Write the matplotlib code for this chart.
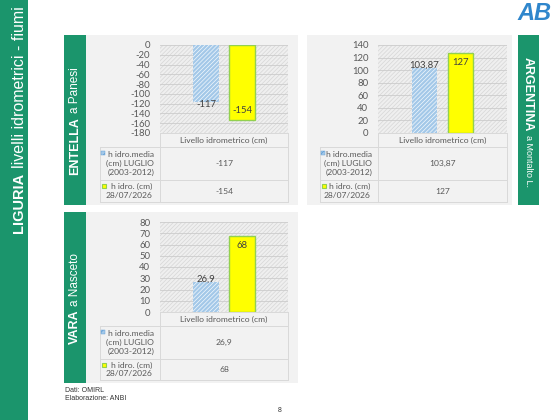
import numpy as np
import matplotlib.pyplot as plt
from matplotlib.patches import Rectangle

# data
series_names = ["h idro.media\n(cm) LUGLIO\n(2003-2012)", "h idro. (cm)\n28/07/2026"]
category = "Livello idrometrico (cm)"

entella_vals = [-117, -154]
entella_labels = ["-117", "-154"]
entella_ticks = list(range(-180, 1, 20))

argentina_vals = [103.87, 127]
argentina_labels = ["103,87", "127"]
argentina_ticks = list(range(0, 141, 20))

vara_vals = [26.9, 68]
vara_labels = ["26,9", "68"]
vara_ticks = list(range(0, 81, 10))

GREEN = "#1b956c"
BLUE = "#a3c8e8"
YELLOW = "#ffff00"
YEDGE = "#92d050"
GRID = "#d9d9d9"
TXT = "#595959"
W, H = 560, 420

plt.rcParams['font.family'] = ['Lato', 'DejaVu Sans']
plt.rcParams['hatch.linewidth'] = 0.5

fig = plt.figure(figsize=(5.6, 4.2), dpi=100)
bg = fig.add_axes([0, 0, 1, 1])
bg.set_xlim(0, W)
bg.set_ylim(H, 0)
bg.axis("off")
renderer = fig.canvas.get_renderer()


def px_axes(x0, y0, x1, y1):
    return fig.add_axes([x0 / W, 1 - y1 / H, (x1 - x0) / W, (y1 - y0) / H])


def two_part(x, y, bold, rest, size1, size2, rot, gap=4):
    # bold word followed by a normal-weight part, running along the rotation
    kw = dict(rotation=rot, rotation_mode="anchor", ha="left", va="center", color="white",
              family="Liberation Sans", zorder=3)
    t = bg.text(x, y, bold, fontsize=size1, fontweight="bold", **kw)
    ext = t.get_window_extent(renderer)
    length = ext.height  # pixels along the rotated direction
    y2 = y - length - gap if rot == 90 else y + length + gap
    bg.text(x, y2, rest, fontsize=size2, **kw)


def draw_panel(box, plot, tab_x0, vals, labels, ticks):
    bx0, by0, bx1, by1 = box
    px0, py0, px1, py1 = plot
    bg.add_patch(Rectangle((bx0, by0), bx1 - bx0, by1 - by0, facecolor="#f2f2f2",
                           edgecolor="none", zorder=1))

    ax = px_axes(px0, py0, px1, py1)
    ax.set_facecolor("#eeeeee")
    ax.add_patch(Rectangle((0, 0), 1, 1, transform=ax.transAxes, facecolor="#efefef",
                           edgecolor="#d6d6d6", hatch="////////", lw=0, zorder=0))
    ax.set_xlim(-0.5, 0.5)
    ax.set_ylim(min(ticks), max(ticks))
    ax.set_yticks(ticks)
    ax.set_yticklabels([str(t) for t in ticks], fontsize=6.8, color=TXT)
    ax.set_xticks([])
    ax.tick_params(axis="y", length=0, pad=7)
    for s in ax.spines.values():
        s.set_visible(False)
    ax.yaxis.grid(True, color="#cccccc", lw=0.6, zorder=1)
    ax.set_axisbelow(True)

    ax.bar(-0.14, vals[0], width=0.2, color=BLUE, edgecolor="#f4f9fd", hatch="////////",
           lw=0, zorder=2)
    ax.bar(0.14, vals[1], width=0.2, color=YELLOW, edgecolor=YEDGE, lw=1, zorder=2)
    sgn = 1 if vals[0] >= 0 else -1
    ax.annotate(labels[0], (-0.14, vals[0]), xytext=(0, 2 * sgn), textcoords="offset points",
                ha="center", va="center", fontsize=6.8, color="#404040")
    ax.annotate(labels[1], (0.14, vals[1]), xytext=(0, -7 * sgn), textcoords="offset points",
                ha="center", va="center", fontsize=6.8, color="#404040")

    # data table under the chart
    r0, r1, r2, r3 = py1, py1 + 14, py1 + 47, by1 - 3
    lc = dict(color=GRID, lw=0.7, zorder=3)
    bg.plot([px0, px1], [r0, r0], **lc)
    for r in (r1, r2, r3):
        bg.plot([tab_x0, px1], [r, r], **lc)
    bg.plot([px0, px0], [r0, r3], **lc)
    bg.plot([px1, px1], [r0, r3], **lc)
    bg.plot([tab_x0, tab_x0], [r1, r3], **lc)
    cx = (px0 + px1) / 2
    fs = 6.1
    bg.text(cx, (r0 + r1) / 2, category, ha="center", va="center", fontsize=fs,
            color=TXT, zorder=4)
    bg.text(px0 - 6, (r1 + r2) / 2, series_names[0], ha="right", va="center", fontsize=fs,
            color=TXT, linespacing=1.25, zorder=4)
    bg.text(px0 - 8, (r2 + r3) / 2, series_names[1], ha="right", va="center", fontsize=fs,
            color=TXT, linespacing=1.25, zorder=4)
    bg.text(cx, (r1 + r2) / 2, labels[0], ha="center", va="center", fontsize=fs,
            color=TXT, zorder=4)
    bg.text(cx, (r2 + r3) / 2, labels[1], ha="center", va="center", fontsize=fs,
            color=TXT, zorder=4)
    bg.add_patch(Rectangle((tab_x0 + 1, r1 + 4), 4, 4, facecolor=BLUE, edgecolor="#5b9bd5",
                           hatch="////", lw=0.3, zorder=4))
    bg.add_patch(Rectangle((tab_x0 + 2, r2 + 3.5), 4, 4, facecolor=YELLOW, edgecolor=YEDGE,
                           lw=0.8, zorder=4))


# slide side band and title
bg.add_patch(Rectangle((0, 0), 28, H, facecolor=GREEN, edgecolor="none", zorder=1))
two_part(19, 233, "LIGURIA", "livelli idrometrici - fiumi", 10.5, 11.5, 90, gap=5)

# panels
draw_panel((86, 35, 298, 205), (160, 45, 288, 133), 100,
           entella_vals, entella_labels, entella_ticks)
draw_panel((307, 35, 512, 205), (378, 45, 507, 133), 320,
           argentina_vals, argentina_labels, argentina_ticks)
draw_panel((86, 212, 298, 383), (160, 222, 288, 312), 100,
           vara_vals, vara_labels, vara_ticks)

# panel name boxes
for (x0, y0, x1, y1) in [(64, 35, 86, 205), (518, 35, 539, 205), (64, 212, 86, 383)]:
    bg.add_patch(Rectangle((x0, y0), x1 - x0, y1 - y0, facecolor=GREEN, edgecolor="none",
                           zorder=2))
two_part(75, 175, "ENTELLA", "a Panesi", 9, 8.5, 90)
two_part(528, 57, "ARGENTINA", "a Montalto L.", 9, 6.5, -90)
two_part(75, 344, "VARA", "a Nasceto", 9, 8.5, 90)

# footer
bg.text(65, 391, "Dati: OMIRL", fontsize=5, va="center", family="Liberation Sans", color="#333333")
bg.text(65, 399, "Elaborazione: ANBI", fontsize=5, va="center", family="Liberation Sans",
        color="#333333")
bg.text(280, 410, "8", fontsize=5, ha="center", va="center", family="Liberation Sans",
        color="#333333")

# logo
bg.text(534, 13, "AB", fontsize=17, fontweight="bold", style="italic", ha="center",
        va="center", color="#2f86cc", family="Liberation Sans")

fig.savefig("out.png", dpi=100)
